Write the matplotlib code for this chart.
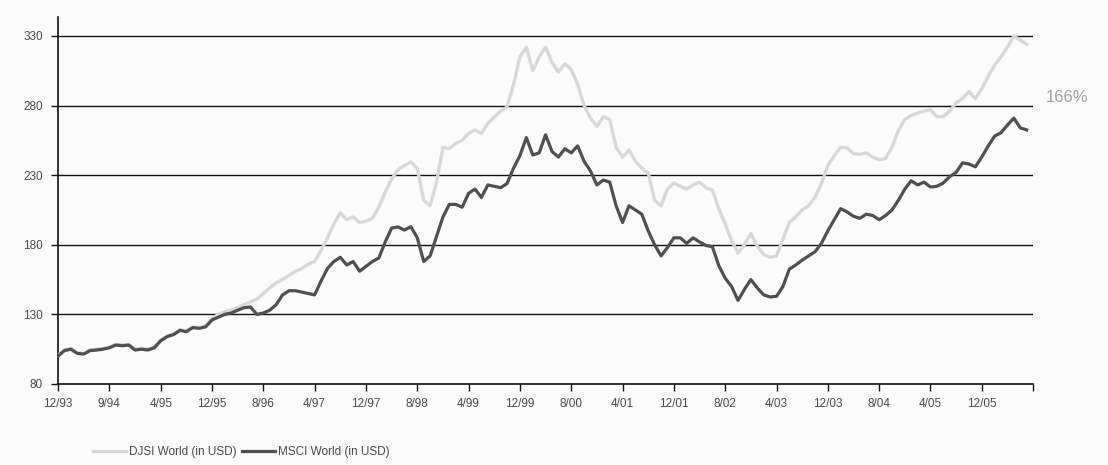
import numpy as np
import matplotlib.pyplot as plt

plt.rcParams['font.family'] = ['Liberation Sans', 'DejaVu Sans']

# monthly index levels, start 12/93 = 100
msci = [100, 104, 105, 102, 101.5, 104, 104.4, 105, 106, 108,
        107.5, 108, 104.4, 105, 104.4, 106, 111, 114, 115.5, 118.5,
        117.6, 120.5, 120, 121, 126, 128, 130, 131, 133, 134.8,
        135.3, 130, 131, 133, 137, 144, 147, 147, 146, 145,
        144, 154, 163, 168, 171, 165.5, 168, 161, 164.5, 168,
        170.5, 182, 192, 192.8, 190.6, 193, 185, 168, 172, 186,
        200, 209, 209, 207, 217, 220, 214, 223, 222, 221,
        224, 235, 244, 257, 244.5, 246, 259, 247, 243, 249,
        246, 251, 240, 233, 223, 226.5, 225, 208, 196, 208,
        205, 202, 190, 180, 172, 178, 185, 185, 181, 185,
        182, 179.5, 178.6, 165, 156, 150, 140, 148, 155, 149,
        144, 142.5, 143, 150, 162.5, 165.5, 169, 172, 175, 181,
        190, 198, 206, 203.6, 200.5, 199, 202, 201, 198, 201,
        205, 212, 220, 226, 223, 225, 221.5, 222, 224.4, 229,
        232, 238.8, 238, 236, 243, 251, 258, 260.5, 266, 271,
        264, 262.5]

djsi = [100.5, 104.5, 105.5, 102.5, 102, 104.5, 105, 105.5, 106.5, 108.5,
        108, 108.5, 105, 105.5, 105, 106.5, 111.5, 114.5, 116, 119,
        118, 121, 120.5, 122, 127, 130, 132, 133, 135, 137,
        139, 141, 145, 149, 152.6, 155, 158, 161, 163, 166,
        168, 176, 185, 195, 203, 198, 200, 196, 197, 199,
        207, 218, 227, 234, 237, 239.5, 235, 212, 208, 225,
        250, 249, 253, 255, 260, 262.5, 260, 267, 271.8, 276,
        279, 295, 315, 322, 305, 315, 322, 311, 304, 310,
        306, 295, 280, 271, 265, 272, 270, 250, 243, 248,
        240, 235, 231.6, 212, 208, 220, 224.4, 222, 220, 223,
        225, 221, 219.4, 206, 195, 183, 174, 180, 188, 179,
        173, 171, 172, 184, 196, 200, 205, 208, 214, 224,
        237, 244, 250, 249.6, 245.5, 245, 246, 243, 241, 242,
        250, 262, 270, 273, 274.5, 276, 277, 272, 272, 276,
        282, 285, 290, 285, 292, 301, 309, 315, 322, 330,
        327, 324]

tick_labels = ['12/93', '9/94', '4/95', '12/95', '8/96', '4/97', '12/97',
               '8/98', '4/99', '12/99', '8/00', '4/01', '12/01', '8/02',
               '4/03', '12/03', '8/04', '4/05', '12/05']
y_ticks = [80, 130, 180, 230, 280, 330]

months = np.arange(len(msci))

fig = plt.figure(figsize=(11.08, 4.65), dpi=100, facecolor='#fbfbfb')
ax = fig.add_axes([0.0524, 0.1742, 0.8800, 0.7892])
ax.set_facecolor('#fbfbfb')

ax.plot(months, djsi, color='#d8d8d8', lw=2.4, label='DJSI World (in USD)', zorder=3)
ax.plot(months, msci, color='#505050', lw=2.3, label='MSCI World (in USD)', zorder=4)

ax.set_xlim(0, 152)
ax.set_ylim(80, 343.6)
ax.set_xticks(np.arange(0, 153, 8))
ax.set_xticklabels(tick_labels + [''])
ax.set_yticks(y_ticks)

# horizontal gridlines drawn beneath the series
for v in y_ticks[1:]:
    ax.axhline(v, color='#111111', lw=1.0, zorder=2)

for s in ['top', 'right']:
    ax.spines[s].set_visible(False)
ax.spines['left'].set_color('#111111')
ax.spines['bottom'].set_color('#111111')
ax.spines['left'].set_linewidth(1.2)
ax.spines['bottom'].set_linewidth(1.2)

ax.tick_params(axis='x', direction='out', length=5, width=1, color='#111111',
               labelsize=8.5, labelcolor='#4a4a4a', pad=5)
ax.tick_params(axis='y', direction='out', length=5, width=1, color='#111111',
               labelsize=8.5, labelcolor='#4a4a4a', pad=6)

fig.text(1046 / 1108, 1 - 97 / 465, '166%', color='#a3a3a3', fontsize=12,
         ha='left', va='center')

fig.legend(loc='center left', bbox_to_anchor=(82 / 1108, 1 - 452 / 465), ncol=2,
           frameon=False, fontsize=8.5, handlelength=2.8, handletextpad=0.3,
           columnspacing=0.4, labelcolor='#4a4a4a')

fig.savefig('out.png', dpi=100, facecolor=fig.get_facecolor())
